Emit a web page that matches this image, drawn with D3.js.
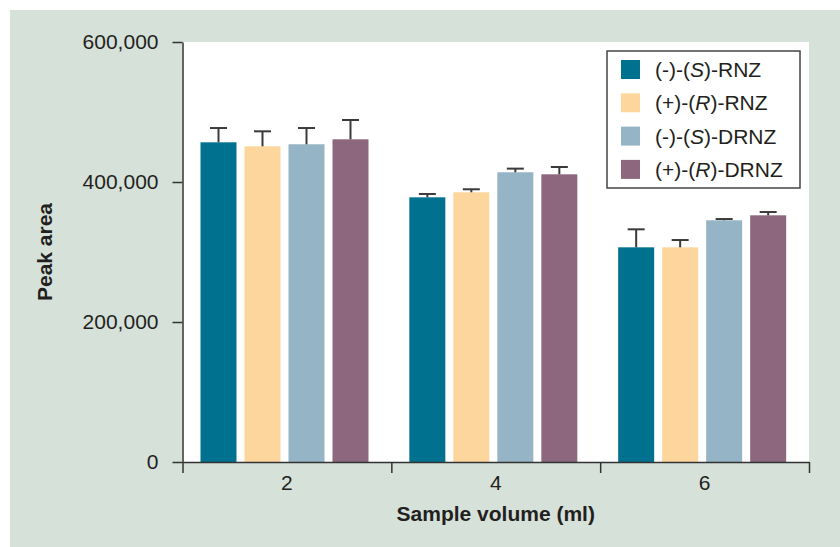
<!DOCTYPE html>
<html>
<head>
<meta charset="utf-8">
<script src="https://cdn.jsdelivr.net/npm/d3@7"></script>
<style>
  body { margin: 0; background: #fff; }
  svg { display: block; font-family: "Liberation Sans", Arial, sans-serif; }
</style>
</head>
<body>
<svg id="chart"></svg>
<script>
// sample volumes (ml)
const volumes = ['2', '4', '6'];

// legend entries: [prefix, italic letter, suffix]
const seriesNames = [
  ['(-)-(', 'S', ')-RNZ'],
  ['(+)-(', 'R', ')-RNZ'],
  ['(-)-(', 'S', ')-DRNZ'],
  ['(+)-(', 'R', ')-DRNZ']
];
const seriesColors = ['#00728f', '#fdd69d', '#95b4c5', '#8c677d'];

// mean peak area per series, one value per volume
const sRnz = [456700, 378100, 306700];
const rRnz = [451000, 385300, 306700];
const sDrnz = [453900, 413900, 345300];
const rDrnz = [461000, 411000, 352400];

// error (upper whisker) per series
const sRnzErr = [20400, 4800, 25700];
const rRnzErr = [21400, 4300, 10400];
const sDrnzErr = [23200, 5200, 1800];
const rDrnzErr = [27600, 10400, 4700];

const yTicks = [0, 200000, 400000, 600000];

const WIDTH = 840;
const HEIGHT = 547;
const MARGIN = {top: 42, right: 31, bottom: 85, left: 182.5};

const means = [sRnz, rRnz, sDrnz, rDrnz];
const errs = [sRnzErr, rRnzErr, sDrnzErr, rDrnzErr];

const data = [];
volumes.forEach((v, i) => {
  means.forEach((m, s) => {
    data.push({volume: v, series: s, value: m[i], err: errs[s][i]});
  });
});

const svg = d3.select('#chart')
  .attr('width', WIDTH)
  .attr('height', HEIGHT);

// background panel
svg.append('rect')
  .attr('x', 10).attr('y', 10)
  .attr('width', WIDTH - 10).attr('height', HEIGHT - 10)
  .attr('fill', '#d6e1da');

const width = WIDTH - MARGIN.left - MARGIN.right;
const height = HEIGHT - MARGIN.top - MARGIN.bottom;

const chart = svg.append('g')
  .attr('transform', `translate(${MARGIN.left}, ${MARGIN.top})`);

chart.append('rect')
  .attr('width', width)
  .attr('height', height)
  .attr('fill', '#fff');

const x = d3.scaleBand()
  .domain(volumes)
  .range([0, width])
  .padding(0);

const inner = d3.scaleBand()
  .domain(d3.range(seriesNames.length))
  .range([18, 186])
  .paddingInner(8 / 44)
  .paddingOuter(0);

const y = d3.scaleLinear()
  .domain([0, 600000])
  .range([height, 0]);

// bars
chart.selectAll('.bar')
  .data(data)
  .enter()
  .append('rect')
  .attr('class', 'bar')
  .attr('x', (d) => x(d.volume) + inner(d.series))
  .attr('y', (d) => y(d.value))
  .attr('width', inner.bandwidth())
  .attr('height', (d) => y(0) - y(d.value))
  .attr('fill', (d) => seriesColors[d.series]);

// error bars (upper only)
const errG = chart.selectAll('.err')
  .data(data)
  .enter()
  .append('g')
  .attr('class', 'err')
  .attr('stroke', '#3a3a3a')
  .attr('stroke-width', 2);

errG.append('line')
  .attr('x1', (d) => x(d.volume) + inner(d.series) + inner.bandwidth() / 2)
  .attr('x2', (d) => x(d.volume) + inner(d.series) + inner.bandwidth() / 2)
  .attr('y1', (d) => y(d.value))
  .attr('y2', (d) => y(d.value + d.err));

errG.append('line')
  .attr('x1', (d) => x(d.volume) + inner(d.series) + inner.bandwidth() / 2 - 8.5)
  .attr('x2', (d) => x(d.volume) + inner(d.series) + inner.bandwidth() / 2 + 8.5)
  .attr('y1', (d) => y(d.value + d.err))
  .attr('y2', (d) => y(d.value + d.err));

// y axis
const yAxis = d3.axisLeft(y)
  .tickValues(yTicks)
  .tickSizeInner(10)
  .tickSizeOuter(0)
  .tickPadding(14)
  .tickFormat(d3.format(','));

const yG = chart.append('g').call(yAxis);
yG.select('.domain').attr('stroke', '#333').attr('stroke-width', 1.5);
yG.selectAll('.tick line').attr('stroke', '#333').attr('stroke-width', 1.5);
yG.selectAll('.tick text')
  .attr('fill', '#231f20')
  .style('font-size', '21px');

// x axis: ticks at the band edges, labels at the band centres
const edges = volumes.map((v) => x(v)).concat([width]);
const xEdge = d3.scaleLinear().domain([0, width]).range([0, width]);
const xAxis = d3.axisBottom(xEdge)
  .tickValues(edges)
  .tickSizeInner(11)
  .tickSizeOuter(0)
  .tickFormat('');

const xG = chart.append('g')
  .attr('transform', `translate(0, ${height})`)
  .call(xAxis);
xG.select('.domain').attr('stroke', '#333').attr('stroke-width', 1.5);
xG.selectAll('.tick line').attr('stroke', '#333').attr('stroke-width', 1.5);

chart.append('g')
  .selectAll('text')
  .data(volumes)
  .enter()
  .append('text')
  .attr('x', (d) => x(d) + x.bandwidth() / 2)
  .attr('y', height + 27.5)
  .attr('text-anchor', 'middle')
  .attr('fill', '#231f20')
  .style('font-size', '21px')
  .text((d) => d);

// axis titles
chart.append('text')
  .attr('x', width / 2)
  .attr('y', height + 59)
  .attr('text-anchor', 'middle')
  .attr('fill', '#231f20')
  .style('font-size', '21px')
  .style('font-weight', 'bold')
  .text('Sample volume (ml)');

chart.append('text')
  .attr('transform', `translate(${52 - MARGIN.left}, ${height / 2}) rotate(-90)`)
  .attr('text-anchor', 'middle')
  .attr('fill', '#231f20')
  .style('font-size', '21px')
  .style('font-weight', 'bold')
  .text('Peak area');

// legend
const legend = svg.append('g')
  .attr('transform', 'translate(607, 51)');

legend.append('rect')
  .attr('width', 193)
  .attr('height', 137)
  .attr('fill', '#fff')
  .attr('stroke', '#444')
  .attr('stroke-width', 1.5);

const rows = legend.selectAll('.row')
  .data(seriesNames)
  .enter()
  .append('g')
  .attr('class', 'row')
  .attr('transform', (d, i) => `translate(0, ${18.5 + i * 33.3})`);

rows.append('rect')
  .attr('x', 14)
  .attr('y', -9.5)
  .attr('width', 19)
  .attr('height', 19)
  .attr('fill', (d, i) => seriesColors[i]);

const label = rows.append('text')
  .attr('x', 48)
  .attr('y', 7.5)
  .attr('fill', '#231f20')
  .style('font-size', '21px');

label.append('tspan').text((d) => d[0]);
label.append('tspan').style('font-style', 'italic').text((d) => d[1]);
label.append('tspan').text((d) => d[2]);
</script>
</body>
</html>
